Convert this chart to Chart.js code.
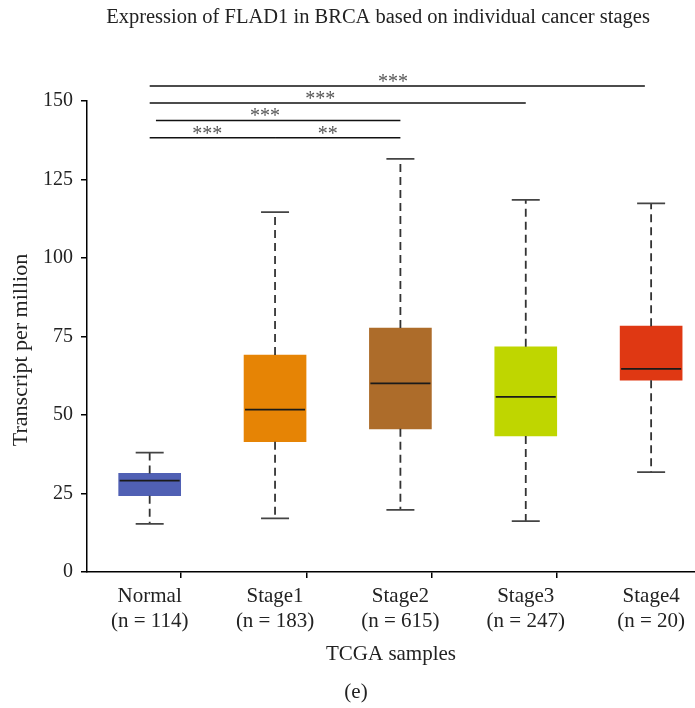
<!DOCTYPE html>
<html>
<head>
<meta charset="utf-8">
<script src="https://cdn.jsdelivr.net/npm/chart.js@4"></script>
<style>
  html, body { margin: 0; padding: 0; background: #fff; }
  canvas { display: block; }
</style>
</head>
<body>
<canvas id="chart" width="695" height="708"></canvas>
<script>
// box plot values (transcripts per million)
var categories = ["Normal", "Stage1", "Stage2", "Stage3", "Stage4"];
var sampleCounts = [114, 183, 615, 247, 20];
var whiskerLow = [15.3, 17.1, 19.8, 16.2, 31.8];
var q1 = [24.3, 41.5, 45.6, 43.3, 61.1];
var median = [29.1, 51.7, 60.1, 55.8, 64.7];
var q3 = [31.4, 69.1, 77.7, 71.7, 78.3];
var whiskerHigh = [38.0, 114.6, 131.6, 118.5, 117.4];
var yTicks = [0, 25, 50, 75, 100, 125, 150];

var boxColors = ["#5060b4", "#e68405", "#ad6c2a", "#bfd600", "#df3813"];

// significance bars: from, to, height, label, label position
var sigFrom = [0, 0, 0.05, 0, 1];
var sigTo = [3.95, 3, 2, 1, 2];
var sigLevel = [154.8, 149.4, 143.8, 138.3, 138.3];
var sigText = ["***", "***", "***", "***", "**"];
var sigTextAt = [1.94, 1.36, 0.92, 0.46, 1.42];

var serif = "'Liberation Serif', 'DejaVu Serif', serif";

var boxPlugin = {
    id: "boxExtras",
    afterDatasetsDraw: function(chart) {
        var ctx = chart.ctx;
        var x = chart.scales.x, y = chart.scales.y;
        ctx.save();
        for (var i = 0; i < categories.length; i++) {
            var cx = x.getPixelForValue(i);
            // whiskers
            ctx.strokeStyle = "#333";
            ctx.lineWidth = 1.8;
            ctx.setLineDash([8, 5]);
            ctx.beginPath();
            ctx.moveTo(cx, y.getPixelForValue(q3[i]));
            ctx.lineTo(cx, y.getPixelForValue(whiskerHigh[i]));
            ctx.moveTo(cx, y.getPixelForValue(q1[i]));
            ctx.lineTo(cx, y.getPixelForValue(whiskerLow[i]));
            ctx.stroke();
            ctx.setLineDash([]);
            // caps
            ctx.strokeStyle = "#444";
            ctx.beginPath();
            ctx.moveTo(cx - 14, y.getPixelForValue(whiskerHigh[i]));
            ctx.lineTo(cx + 14, y.getPixelForValue(whiskerHigh[i]));
            ctx.moveTo(cx - 14, y.getPixelForValue(whiskerLow[i]));
            ctx.lineTo(cx + 14, y.getPixelForValue(whiskerLow[i]));
            ctx.stroke();
            // median
            ctx.strokeStyle = "#1a1a1a";
            ctx.beginPath();
            ctx.moveTo(cx - 30, y.getPixelForValue(median[i]));
            ctx.lineTo(cx + 30, y.getPixelForValue(median[i]));
            ctx.stroke();
        }
        ctx.restore();
    },
    afterDraw: function(chart) {
        var ctx = chart.ctx;
        var x = chart.scales.x, y = chart.scales.y;
        ctx.save();
        // significance lines
        ctx.strokeStyle = "#111";
        ctx.lineWidth = 1.5;
        for (var k = 0; k < sigFrom.length; k++) {
            var ly = y.getPixelForValue(sigLevel[k]);
            ctx.beginPath();
            ctx.moveTo(x.getPixelForValue(sigFrom[k]), ly);
            ctx.lineTo(x.getPixelForValue(sigTo[k]), ly);
            ctx.stroke();
            ctx.fillStyle = "#555";
            ctx.font = "20px " + serif;
            ctx.textAlign = "center";
            ctx.textBaseline = "alphabetic";
            ctx.fillText(sigText[k], x.getPixelForValue(sigTextAt[k]), ly + 2);
        }
        ctx.fillStyle = "#222";
        ctx.textAlign = "center";
        ctx.textBaseline = "middle";
        ctx.font = "20.5px " + serif;
        ctx.fillText("Expression of FLAD1 in BRCA based on individual cancer stages", 378, 18);
        ctx.font = "21px " + serif;
        ctx.fillText("(e)", 356, 692);
        ctx.font = "22px " + serif;
        ctx.translate(21, 350);
        ctx.rotate(-Math.PI / 2);
        ctx.fillText("Transcript per million", 0, 0);
        ctx.restore();
    }
};

var ctx = document.getElementById("chart");
var chart = new Chart(ctx, {
    type: "bar",
    data: {
        datasets: [{
            data: categories.map(function(c, i) { return { x: i, y: [q1[i], q3[i]] }; }),
            backgroundColor: boxColors,
            borderWidth: 0,
            barThickness: 62
        }]
    },
    options: {
        responsive: false,
        animation: false,
        layout: { padding: { top: 101, left: 0, right: 0, bottom: 0 } },
        plugins: {
            legend: { display: false },
            tooltip: { enabled: false }
        },
        scales: {
            x: {
                type: "linear",
                offset: false,
                min: -0.5,
                max: 4.35,
                afterBuildTicks: function(scale) {
                    scale.ticks = [-0.5, 0, 0.5, 1, 1.5, 2, 2.5, 3, 3.5, 4].map(function(v) { return { value: v }; });
                },
                afterFit: function(scale) { scale.height = 136; },
                ticks: {
                    autoSkip: false,
                    maxRotation: 0,
                    padding: 6,
                    color: "#222",
                    font: { family: serif, size: 21 },
                    callback: function(v) {
                        return Number.isInteger(v) ? [categories[v], "(n = " + sampleCounts[v] + ")"] : "";
                    }
                },
                grid: {
                    drawOnChartArea: false,
                    tickLength: 6,
                    lineWidth: 1.5,
                    color: function(c) {
                        return c.tick && !Number.isInteger(c.tick.value) ? "#000" : "rgba(0,0,0,0)";
                    }
                },
                border: { color: "#000", width: 1.5 },
                title: {
                    display: true,
                    text: "TCGA samples",
                    color: "#222",
                    font: { family: serif, size: 21 },
                    padding: { top: 0, bottom: 41 }
                }
            },
            y: {
                min: 0,
                max: 150,
                afterBuildTicks: function(scale) {
                    scale.ticks = yTicks.map(function(v) { return { value: v }; });
                },
                afterFit: function(scale) { scale.width = 87; },
                ticks: {
                    padding: 8,
                    color: "#222",
                    font: { family: serif, size: 20 }
                },
                grid: { drawOnChartArea: false, tickLength: 6, lineWidth: 1.5, color: "#000" },
                border: { color: "#000", width: 1.5 }
            }
        }
    },
    plugins: [boxPlugin]
});
</script>
</body>
</html>
